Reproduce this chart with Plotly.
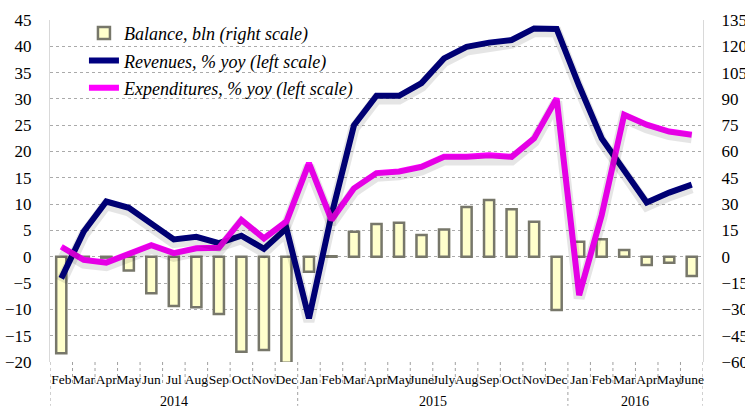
import plotly.graph_objects as go

years = ["2014"] * 11 + ["2015"] * 12 + ["2016"] * 6
months = ["Feb", "Mar", "Apr", "May", "Jun", "Jul", "Aug", "Sep", "Oct", "Nov", "Dec",
          "Jan", "Feb", "Mar", "Apr", "May", "June", "July", "Aug", "Sep", "Oct", "Nov", "Dec",
          "Jan", "Feb", "Mar", "Apr", "May", "June"]

balance = [-55.0, -0.5, -0.5, -7.9, -20.8, -28.0, -28.8, -32.6, -54.1, -53.1, -60.4,
           -8.5, 0.3, 14.3, 18.7, 19.4, 12.4, 15.5, 28.4, 32.4, 27.1, 20.0, -30.3,
           8.6, 10.0, 3.9, -4.7, -3.4, -11.0]

revenues = [-4.1, 4.8, 10.5, 9.3, 6.3, 3.3, 3.8, 2.6, 4.0, 1.5, 5.4,
            -11.7, 7.9, 25.0, 30.6, 30.6, 33.0, 37.7, 39.9, 40.7, 41.2, 43.4, 43.3,
            32.5, 22.5, 16.5, 10.3, 12.2, 13.7]

expenditures = [1.9, -0.6, -1.1, 0.7, 2.2, 0.7, 1.6, 1.7, 7.0, 3.5, 6.7,
                17.8, 7.0, 13.0, 15.9, 16.2, 17.1, 19.0, 19.0, 19.3, 19.0, 22.5, 30.1,
                -7.3, 7.9, 27.0, 25.1, 23.8, 23.2]

FONT = "Liberation Serif"
x = list(range(len(months)))

fig = go.Figure()

fig.add_trace(go.Bar(
    x=x, y=balance, name="Balance, bln (right scale)", legendgroup="b",
    marker=dict(color="#FFFFCC", line=dict(color="#77776A", width=2.5)),
    width=0.45, yaxis="y",
))

# soft shadows for the lines
for vals in (revenues, expenditures):
    fig.add_trace(go.Scatter(
        x=x, y=vals, mode="lines", yaxis="y3", showlegend=False, hoverinfo="skip",
        line=dict(color="rgba(0,0,0,0.10)", width=11),
    ))

fig.add_trace(go.Scatter(
    x=x, y=revenues, name="Revenues, % yoy (left scale)", mode="lines", legendgroup="r",
    line=dict(color="#000080", width=6), yaxis="y2",
))
fig.add_trace(go.Scatter(
    x=x, y=expenditures, name="Expenditures, % yoy (left scale)", mode="lines", legendgroup="e",
    line=dict(color="#FF00FF", width=6), yaxis="y2",
))

# month boundaries (ticks) and year dividers below the plot
shapes = []
n = len(months)
for i in range(n + 1):
    b = i - 0.5
    is_div = i == 0 or i == n or years[i] != years[i - 1]
    shapes.append(dict(
        type="line", xref="x", yref="paper", x0=b, x1=b,
        y0=0, y1=(-0.128 if is_div else -0.066),
        line=dict(color="#A0A0A0", width=1, dash="dot"),
    ))

annotations = []
for yr in dict.fromkeys(years):
    idx = [i for i, v in enumerate(years) if v == yr]
    annotations.append(dict(
        x=(idx[0] + idx[-1]) / 2, y=0, xref="x", yref="paper",
        yshift=-39, yanchor="middle", showarrow=False, text=yr,
        font=dict(family=FONT, size=14),
    ))

fig.update_layout(
    template="none",
    width=745, height=406,
    margin=dict(l=50, r=42, t=20, b=44, autoexpand=False),
    plot_bgcolor="white", paper_bgcolor="white",
    font=dict(family=FONT, color="black", size=17),
    showlegend=True,
    shapes=shapes,
    annotations=annotations,
    legend=dict(
        x=0.052, y=1.015, xanchor="left", yanchor="top",
        bgcolor="rgba(0,0,0,0)",
        font=dict(family=FONT, size=18, style="italic"),
        traceorder="grouped", tracegroupgap=1,
    ),
    xaxis=dict(
        automargin=False,
        range=[-0.5, n - 0.5],
        tickmode="array", tickvals=x, ticktext=months,
        tickfont=dict(family=FONT, size=13.5),
        tickangle=0, ticks="", ticklabelstandoff=7,
        showgrid=False, showline=False, zeroline=False,
    ),
    yaxis=dict(
        automargin=False,
        side="right", range=[-60, 135], dtick=15, tick0=0,
        showgrid=True, gridcolor="#AAAAAA", griddash="dot", gridwidth=1,
        zeroline=False, showline=True, linecolor="#D9D9D9", linewidth=1,
        ticks="", tickfont=dict(family=FONT, size=17), ticklabelstandoff=14,
    ),
    yaxis2=dict(
        automargin=False,
        overlaying="y", side="left", range=[-20, 45], dtick=5, tick0=0,
        showgrid=False, zeroline=False, showline=True, linecolor="#D9D9D9", linewidth=1,
        ticks="", tickfont=dict(family=FONT, size=17), ticklabelstandoff=14,
    ),
    yaxis3=dict(
        automargin=False,
        overlaying="y", side="left", range=[-20 + 0.6, 45 + 0.6],
        visible=False, showgrid=False, zeroline=False,
    ),
)

fig.write_html(
    "out.html",
    config={"displayModeBar": False},
    post_script="document.body.style.margin='0';document.body.style.overflow='hidden';",
)
